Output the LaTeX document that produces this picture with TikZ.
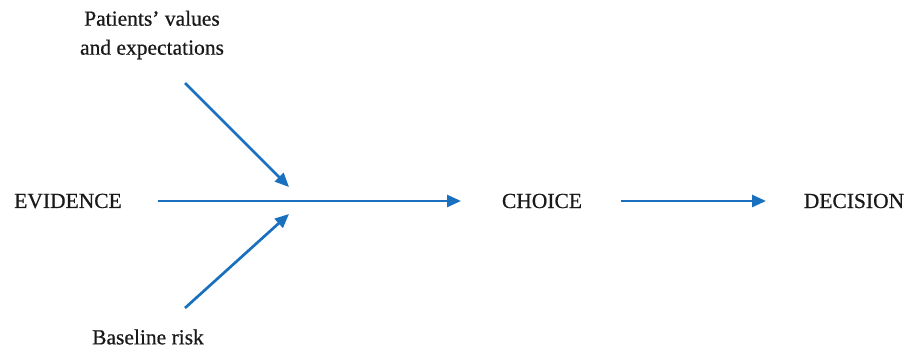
\documentclass[tikz,border=0pt]{standalone}
\usepackage{fontspec}
\setmainfont{Liberation Serif}
\newfontfamily\heavy[FakeBold=0.6]{Liberation Serif}
\usetikzlibrary{arrows.meta}
\definecolor{arrowblue}{RGB}{24,112,190}
\definecolor{txt}{RGB}{25,25,25}
\begin{document}
\begin{tikzpicture}[x=1pt,y=-1pt,
  lbl/.style={text=txt,font=\heavy\fontsize{21.5}{29}\selectfont,inner sep=0pt,align=center},
  arr/.style={draw=arrowblue,line width=2.7pt,-{Triangle[length=14pt,width=12pt]}}]
\useasboundingbox (0,0) rectangle (910,349);
\node[lbl] (ev) at (68,201) {EVIDENCE};
\node[lbl] (ch) at (542,201) {CHOICE};
\node[lbl] (de) at (854,201) {DECISION};
\node[lbl] (pv) at (152,35) {Patients’ values\\and expectations};
\node[lbl] (br) at (148,337) {Baseline risk};
\coordinate (evs) at (158,201);
\coordinate (che) at (461,201);
\coordinate (chs) at (621,201);
\coordinate (dee) at (766,201);
\coordinate (pvs) at (185,83);
\coordinate (pve) at (289,187);
\coordinate (brs) at (185,308);
\coordinate (bre) at (289,214);
\draw[arr] (evs) -- (che);
\draw[arr] (chs) -- (dee);
\draw[arr] (pvs) -- (pve);
\draw[arr] (brs) -- (bre);
\end{tikzpicture}
\end{document}
